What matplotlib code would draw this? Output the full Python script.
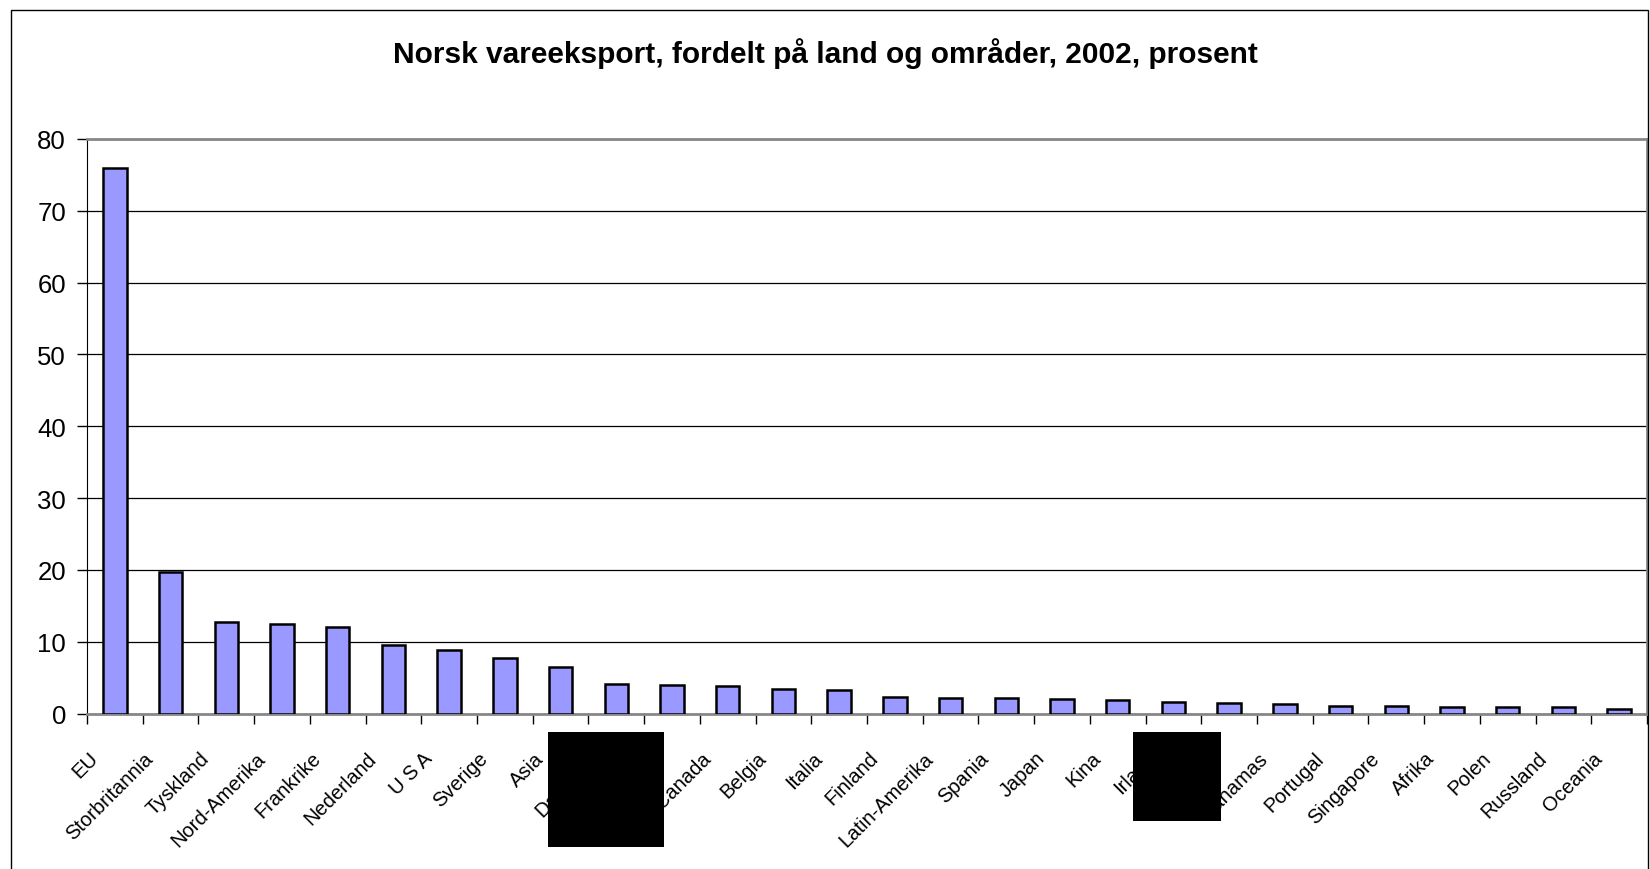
import numpy as np
import matplotlib.pyplot as plt
import matplotlib.transforms as mtransforms
from matplotlib.patches import Rectangle

plt.rcParams['font.family'] = ['Liberation Sans', 'DejaVu Sans']

# data (prosent)
land = ['EU', 'Storbritannia', 'Tyskland', 'Nord-Amerika', 'Frankrike', 'Nederland',
        'U S A', 'Sverige', 'Asia', 'Danmark', 'Sør-Korea', 'Canada', 'Belgia', 'Italia',
        'Finland', 'Latin-Amerika', 'Spania', 'Japan', 'Kina', 'Irland', 'Sveits',
        'Bahamas', 'Portugal', 'Singapore', 'Afrika', 'Polen', 'Russland', 'Oceania']
andel = [75.9, 19.7, 12.7, 12.5, 12.0, 9.6, 8.9, 7.7, 6.5, 4.1, 4.0, 3.9, 3.4, 3.3,
         2.3, 2.2, 2.1, 2.0, 1.9, 1.6, 1.4, 1.3, 1.1, 1.0, 0.9, 0.9, 0.85, 0.6]
yticks = [0, 10, 20, 30, 40, 50, 60, 70, 80]

fig = plt.figure(figsize=(16.5, 8.7), dpi=100)
ax = fig.add_axes([0.0527, 0.1787, 0.9455, 0.6604])

x = np.arange(len(land))
ax.set_axisbelow(True)
ax.yaxis.grid(True, color='black', linewidth=0.9)
ax.bar(x, andel, width=0.42, color='#9999ff', edgecolor='black', linewidth=1.8, zorder=3)

ax.set_xlim(-0.5, len(land) - 0.5)
ax.set_ylim(0, 80)
ax.set_yticks(yticks)
ax.tick_params(axis='y', labelsize=18.5, length=7, direction='out', width=1, pad=8)

# ticks between categories, labels at the centres
ax.set_xticks(np.arange(-0.5, len(land), 1.0))
ax.set_xticklabels([])
ax.tick_params(axis='x', which='major', length=7, direction='out', width=1)
ax.set_xticks(x, minor=True)
ax.set_xticklabels(land, minor=True, rotation=45, ha='right', va='center',
                   rotation_mode='anchor', fontsize=14.5)
ax.tick_params(axis='x', which='minor', length=0, pad=24)
shift = mtransforms.ScaledTranslation(-20 / 100, -8 / 100, fig.dpi_scale_trans)
for lab in ax.get_xticklabels(minor=True):
    lab.set_transform(lab.get_transform() + shift)

for s in ['top', 'right']:
    ax.spines[s].set_color('#888888')
    ax.spines[s].set_linewidth(2)
ax.spines['left'].set_color('black')
ax.spines['bottom'].set_color('#888888')
ax.spines['bottom'].set_linewidth(2)

fig.text(0.5, 0.939, 'Norsk vareeksport, fordelt på land og områder, 2002, prosent',
         ha='center', va='center', fontsize=21.5, fontweight='bold')

# outer chart frame
fig.add_artist(Rectangle((11 / 1650, -0.01), 1637 / 1650, 1.0 - 11 / 870 + 0.01,
                         transform=fig.transFigure, fill=False, edgecolor='black', linewidth=1))

# redacted label boxes as in the reference
fig.add_artist(Rectangle((0.332, 0.0253), 0.0703, 0.132, transform=fig.transFigure,
                         facecolor='black', edgecolor='none', zorder=10))
fig.add_artist(Rectangle((0.6867, 0.0552), 0.0533, 0.1023, transform=fig.transFigure,
                         facecolor='black', edgecolor='none', zorder=10))

fig.savefig('out.png', dpi=100)
